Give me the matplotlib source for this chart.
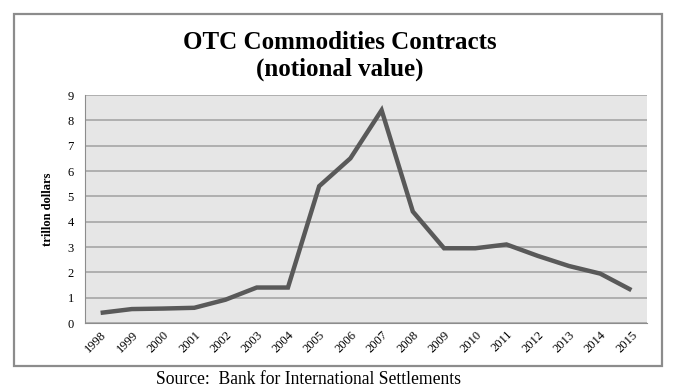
"""
OTC commodities contracts, notional value (BIS)
"""
import matplotlib
matplotlib.use("Agg")
from matplotlib import pyplot as plt
from matplotlib.patches import Rectangle

years = ['1998', '1999', '2000', '2001', '2002', '2003', '2004', '2005', '2006',
         '2007', '2008', '2009', '2010', '2011', '2012', '2013', '2014', '2015']
values = [0.4, 0.55, 0.57, 0.6, 0.92, 1.4, 1.4, 5.4, 6.5,
          8.4, 4.4, 2.95, 2.95, 3.1, 2.65, 2.25, 1.95, 1.3]
y_ticks = list(range(0, 10))

plt.rcParams['font.family'] = ['Liberation Serif', 'DejaVu Serif']

W, H = 674, 390
fig = plt.figure(figsize=(W / 100, H / 100), dpi=100)

# outer frame around the chart
fig.patches.append(Rectangle((14 / W, 1 - 366 / H), 648 / W, 352 / H,
                             transform=fig.transFigure, fill=False,
                             edgecolor='#8c8c8c', linewidth=1.6))

ax = fig.add_axes([85 / W, 1 - 323 / H, 562 / W, 228 / H])
ax.set_facecolor('#e6e6e6')
x = list(range(len(years)))
ax.plot(x, values, color='#595959', linewidth=3.2, solid_joinstyle='miter',
        solid_capstyle='butt', zorder=3)

ax.set_xlim(-0.5, len(years) - 0.5)
ax.set_ylim(0, 9)
ax.set_yticks(y_ticks)
ax.set_yticklabels([str(t) for t in y_ticks], fontsize=9)
ax.set_xticks(x)
ax.set_xticklabels(years, rotation=45, ha='right', rotation_mode='anchor', fontsize=9)
ax.tick_params(length=0, pad=8)
ax.tick_params(axis='x', pad=4)
ax.yaxis.grid(True, color='#a6a6a6', linewidth=1.2)
ax.set_axisbelow(True)
for side in ['top', 'right']:
    ax.spines[side].set_visible(False)
ax.spines['left'].set_color('#8c8c8c')
ax.spines['bottom'].set_color('#8c8c8c')
ax.set_ylabel('trillon dollars', fontsize=9, fontweight='bold', labelpad=10)

fig.text(340 / W, 1 - 56 / H, 'OTC Commodities Contracts\n(notional value)',
         ha='center', va='center', fontsize=18, fontweight='bold', linespacing=1.25)
fig.text(308 / W, 1 - 379 / H, 'Source:  Bank for International Settlements',
         ha='center', va='center', fontsize=12.7)

fig.savefig('out.png', dpi=100)
